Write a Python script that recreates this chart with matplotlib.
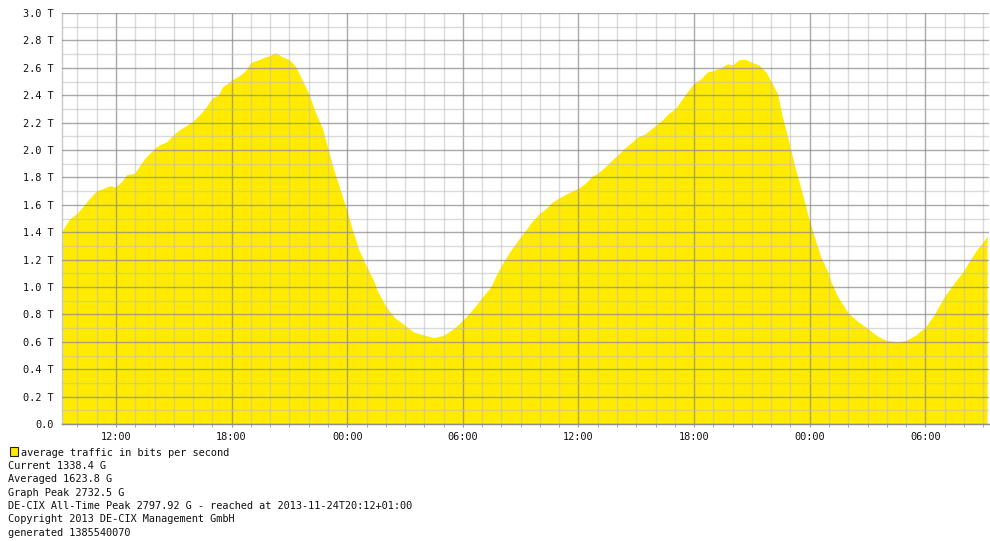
import matplotlib
matplotlib.use("Agg")
import matplotlib.pyplot as plt
from matplotlib.ticker import FixedLocator, MultipleLocator
from matplotlib.patches import Rectangle

# Sample times in hours since midnight of the first day, traffic in Tbit/s
hours = [
    9.20, 9.61, 9.99, 10.30, 10.65, 10.98, 11.34, 11.69, 11.97, 12.29, 12.55, 12.97,
    13.25, 13.50, 13.99, 14.28, 14.63, 14.97, 15.32, 15.67, 15.98, 16.36, 16.71, 16.98,
    17.31, 17.52, 18.00, 18.38, 18.73, 19.00, 19.42, 19.76, 20.00, 20.28, 20.63, 21.00,
    21.32, 21.67, 22.01, 22.36, 22.71, 23.02, 23.31, 23.66, 24.00, 24.26, 24.61, 25.01,
    25.39, 25.57, 26.00, 26.43, 27.00, 27.47, 27.99, 28.51, 29.03, 29.55, 30.01, 30.41,
    30.76, 31.02, 31.45, 31.71, 32.00, 32.49, 33.01, 33.44, 33.60, 34.00, 34.29, 34.64,
    34.99, 35.51, 35.99, 36.37, 36.72, 36.99, 37.41, 37.75, 38.00, 38.45, 38.79, 39.00,
    39.48, 40.00, 40.35, 40.70, 41.01, 41.47, 41.57, 42.00, 42.35, 42.69, 42.99, 43.38,
    43.73, 43.99, 44.34, 44.68, 44.99, 45.37, 45.72, 46.00, 46.33, 46.58, 46.81, 46.98,
    47.28, 47.62, 47.97, 48.23, 48.57, 48.97, 49.10, 49.45, 50.00, 50.48, 50.99, 51.52,
    51.99, 52.56, 52.99, 53.51, 54.01, 54.46, 54.98, 55.50, 55.99, 56.37, 56.71, 56.99,
    57.20,
]
traffic_tbps = [
    1.41, 1.50, 1.54, 1.59, 1.65, 1.70, 1.72, 1.74, 1.73, 1.77, 1.82, 1.83,
    1.89, 1.94, 2.01, 2.04, 2.06, 2.11, 2.15, 2.18, 2.21, 2.26, 2.32, 2.38,
    2.40, 2.46, 2.51, 2.54, 2.58, 2.64, 2.66, 2.68, 2.69, 2.71, 2.68, 2.66,
    2.61, 2.51, 2.41, 2.27, 2.16, 2.00, 1.85, 1.70, 1.55, 1.42, 1.27, 1.15,
    1.04, 0.97, 0.86, 0.78, 0.72, 0.67, 0.65, 0.63, 0.65, 0.70, 0.76, 0.82,
    0.88, 0.93, 1.00, 1.08, 1.16, 1.27, 1.37, 1.45, 1.48, 1.54, 1.57, 1.62,
    1.65, 1.69, 1.72, 1.76, 1.81, 1.83, 1.88, 1.93, 1.96, 2.02, 2.06, 2.09,
    2.12, 2.18, 2.22, 2.27, 2.30, 2.39, 2.41, 2.49, 2.52, 2.57, 2.58, 2.60,
    2.63, 2.62, 2.66, 2.66, 2.64, 2.62, 2.57, 2.50, 2.41, 2.24, 2.12, 2.02,
    1.85, 1.68, 1.49, 1.37, 1.22, 1.10, 1.04, 0.93, 0.81, 0.75, 0.70, 0.64,
    0.61, 0.60, 0.61, 0.65, 0.71, 0.80, 0.93, 1.03, 1.12, 1.21, 1.28, 1.33,
    1.37,
]

x_tick_hours = [12, 18, 24, 30, 36, 42, 48, 54]
x_tick_labels = ["12:00", "18:00", "00:00", "06:00", "12:00", "18:00", "00:00", "06:00"]
y_ticks = [0.0, 0.2, 0.4, 0.6, 0.8, 1.0, 1.2, 1.4, 1.6, 1.8, 2.0, 2.2, 2.4, 2.6, 2.8, 3.0]
y_tick_labels = ["0.0"] + [f"{v:.1f} T" for v in y_ticks[1:]]

footer_lines = [
    "Current 1338.4 G",
    "Averaged 1623.8 G",
    "Graph Peak 2732.5 G",
    "DE-CIX All-Time Peak 2797.92 G - reached at 2013-11-24T20:12+01:00",
    "Copyright 2013 DE-CIX Management GmbH",
    "generated 1385540070",
]
legend_label = "average traffic in bits per second"

FONT = "DejaVu Sans Mono"
FS = 7.4
YELLOW = "#FFEA00"

W, H = 990, 541
fig = plt.figure(figsize=(W / 100, H / 100), dpi=100)
ax = fig.add_axes([62 / W, (H - 424) / H, 927 / W, 411 / H])

ax.fill_between(hours, traffic_tbps, 0, color=YELLOW, linewidth=0, zorder=1)

ax.set_xlim(9.2, 57.3)
ax.set_ylim(0, 3.0)

ax.xaxis.set_major_locator(FixedLocator(x_tick_hours))
ax.xaxis.set_minor_locator(MultipleLocator(1))
ax.set_xticklabels(x_tick_labels, fontfamily=FONT, fontsize=FS, color="#111111")
ax.yaxis.set_major_locator(FixedLocator(y_ticks))
ax.yaxis.set_minor_locator(MultipleLocator(0.1))
ax.set_yticklabels(y_tick_labels, fontfamily=FONT, fontsize=FS, color="#111111")

ax.tick_params(axis="y", which="both", length=0, pad=6)
ax.tick_params(axis="x", which="both", length=2, color="#999999", pad=4, direction="out")

# grid drawn over the filled area, as the traffic graph does
ax.set_axisbelow(False)
ax.grid(which="minor", color="#bdbdbd", alpha=0.55, linewidth=1.0, zorder=2)
ax.grid(which="major", color="#8c8c8c", alpha=0.75, linewidth=1.0, zorder=3)

for side in ("top", "right"):
    ax.spines[side].set_visible(False)
ax.spines["left"].set_color("#c8c8c8")
ax.spines["bottom"].set_color("#8c8c8c")
ax.spines["left"].set_linewidth(1.0)
ax.spines["bottom"].set_linewidth(1.0)

# legend swatch and footer text
fig.patches.append(Rectangle((10 / W, (H - 456) / H), 8 / W, 9 / H,
                             transform=fig.transFigure, facecolor=YELLOW,
                             edgecolor="#222222", linewidth=0.8))
fig.text(21 / W, (H - 452.5) / H, legend_label, fontfamily=FONT, fontsize=FS,
         color="#111111", va="center", ha="left")
for i, line in enumerate(footer_lines):
    fig.text(8 / W, (H - (466 + i * 13.35)) / H, line, fontfamily=FONT,
             fontsize=FS, color="#111111", va="center", ha="left")

fig.savefig("out.png", dpi=100, facecolor="white")
